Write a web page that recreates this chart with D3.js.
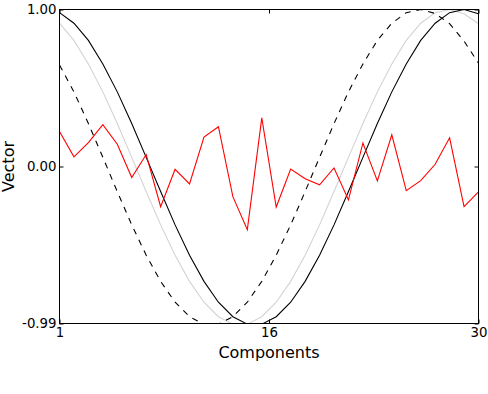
<!DOCTYPE html>
<html>
<head>
<meta charset="utf-8">
<script src="https://cdn.jsdelivr.net/npm/d3@7"></script>
<style>
  body { margin: 0; background: #fff; }
  svg { display: block; font-family: "DejaVu Sans", sans-serif; }
</style>
</head>
<body>
<svg width="488" height="394"></svg>
<script>
const components = [1, 2, 3, 4, 5, 6, 7, 8, 9, 10, 11, 12, 13, 14, 15,
    16, 17, 18, 19, 20, 21, 22, 23, 24, 25, 26, 27, 28, 29, 30];

// solid black curve
const vecSolid = [0.980, 0.913, 0.804, 0.655, 0.478, 0.277, 0.063, -0.154, -0.365, -0.557,
    -0.723, -0.855, -0.947, -0.994, -0.994, -0.947, -0.855, -0.723, -0.557, -0.365,
    -0.154, 0.063, 0.277, 0.478, 0.655, 0.804, 0.913, 0.980, 1.000, 0.973];

// dashed black curve
const vecDashed = [0.648, 0.478, 0.277, 0.063, -0.154, -0.365, -0.557, -0.723, -0.855, -0.947,
    -0.994, -0.994, -0.947, -0.855, -0.723, -0.557, -0.365, -0.154, 0.063, 0.277,
    0.478, 0.655, 0.804, 0.913, 0.980, 1.000, 0.975, 0.910, 0.800, 0.660];

// light grey curve
const vecGrey = [0.913, 0.804, 0.655, 0.478, 0.277, 0.063, -0.154, -0.365, -0.557, -0.723,
    -0.855, -0.947, -0.994, -0.994, -0.947, -0.855, -0.723, -0.557, -0.365, -0.154,
    0.063, 0.277, 0.478, 0.655, 0.804, 0.913, 0.980, 1.000, 0.973, 0.910];

// noisy red curve
const vecNoise = [0.227, 0.066, 0.156, 0.270, 0.146, -0.065, 0.081, -0.250, -0.013, -0.105,
    0.191, 0.257, -0.186, -0.395, 0.313, -0.252, -0.011, -0.072, -0.111, -0.004,
    -0.207, 0.154, -0.086, 0.206, -0.148, -0.085, 0.019, 0.187, -0.250, -0.156];

const xTicks = [1, 15.5, 30];
const xTickLabels = ["1", "16", "30"];
const yTicks = [-0.99, 0.005, 1.00];
const yTickLabels = ["-0.99", "0.00", "1.00"];

const margin = { top: 9.5, right: 9.5, bottom: 70.5, left: 59.5 };
const width = 488 - margin.left - margin.right;
const height = 394 - margin.top - margin.bottom;

const svg = d3.select("svg")
    .append("g")
    .attr("transform", `translate(${margin.left},${margin.top})`);

const xScale = d3.scaleLinear().domain([1, 30]).range([0, width]);
const yScale = d3.scaleLinear().domain([-0.99, 1.00]).range([height, 0]);

const line = d3.line()
    .x((d, i) => xScale(components[i]))
    .y(d => yScale(d));

// clip so the curves touching the frame don't spill out
svg.append("clipPath").attr("id", "clip")
    .append("rect").attr("x", 0).attr("y", 0).attr("width", width).attr("height", height);

const series = [
    { values: vecGrey, color: "#d3d3d3", dash: null },
    { values: vecSolid, color: "#000", dash: null },
    { values: vecDashed, color: "#000", dash: "6,6" },
    { values: vecNoise, color: "#ff0000", dash: null }
];

series.forEach(s => {
    svg.append("path")
        .datum(s.values)
        .attr("clip-path", "url(#clip)")
        .attr("fill", "none")
        .attr("stroke", s.color)
        .attr("stroke-width", 1.1)
        .attr("stroke-dasharray", s.dash)
        .attr("d", line);
});

// Axes, ticks pointing inwards on all four sides
const fmtX = (d, i) => xTickLabels[i];
const fmtY = (d, i) => yTickLabels[i];

const xBottom = svg.append("g")
    .attr("transform", `translate(0,${height})`)
    .call(d3.axisBottom(xScale).tickValues(xTicks).tickFormat(fmtX).tickSizeInner(-4).tickSizeOuter(0).tickPadding(4));
const xTop = svg.append("g")
    .call(d3.axisTop(xScale).tickValues(xTicks).tickFormat("").tickSizeInner(-4).tickSizeOuter(0));
const yLeft = svg.append("g")
    .call(d3.axisLeft(yScale).tickValues(yTicks).tickFormat(fmtY).tickSizeInner(-4).tickSizeOuter(0).tickPadding(3));
const yRight = svg.append("g")
    .attr("transform", `translate(${width},0)`)
    .call(d3.axisRight(yScale).tickValues(yTicks).tickFormat("").tickSizeInner(-4).tickSizeOuter(0));

[xBottom, xTop, yLeft, yRight].forEach(g => {
    g.select(".domain").remove();
    g.selectAll("line").attr("stroke", "#000");
    g.selectAll("text")
        .attr("fill", "#000")
        .style("font-size", "13.3px")
        .style("font-family", "DejaVu Sans");
});

// frame
svg.append("rect")
    .attr("x", 0).attr("y", 0)
    .attr("width", width).attr("height", height)
    .attr("fill", "none")
    .attr("stroke", "#000")
    .attr("stroke-width", 1);

svg.append("text")
    .attr("x", width / 2)
    .attr("y", height + 34.5)
    .attr("text-anchor", "middle")
    .style("font-size", "16px")
    .text("Components");

svg.append("text")
    .attr("transform", `translate(${-45.5},${height / 2}) rotate(-90)`)
    .attr("text-anchor", "middle")
    .style("font-size", "16px")
    .text("Vector");
</script>
</body>
</html>
